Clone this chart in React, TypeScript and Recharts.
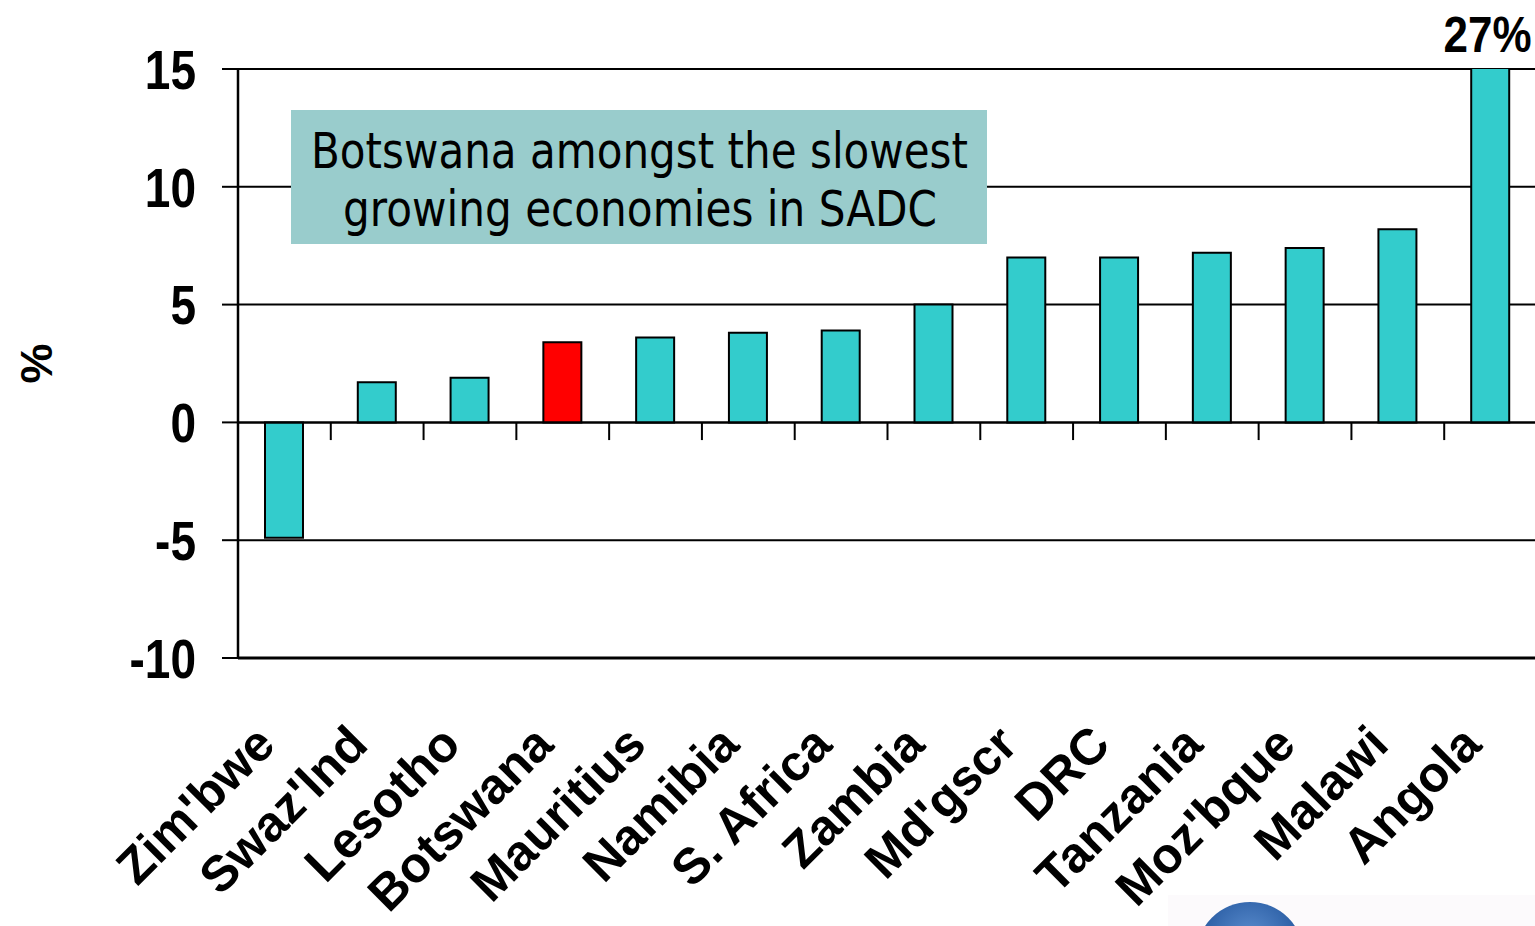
import React from 'react';
import { BarChart, Bar, XAxis, YAxis, CartesianGrid, ReferenceLine, ReferenceDot, Cell } from 'recharts';

const countries = [
  "Zim'bwe", "Swaz'lnd", 'Lesotho', 'Botswana', 'Mauritius', 'Namibia', 'S. Africa',
  'Zambia', "Md'gscr", 'DRC', 'Tanzania', "Moz'bque", 'Malawi', 'Angola',
];
const growth = [-4.9, 1.7, 1.9, 3.4, 3.6, 3.8, 3.9, 5.0, 7.0, 7.0, 7.2, 7.4, 8.2, 27];
const yTicks = [-10, -5, 0, 5, 10, 15];
const highlight = 'Botswana';
const calloutLines = ['Botswana amongst the slowest', 'growing economies in SADC'];

// slot = position of the category centre on a 0..n scale
const data = countries.map((name, i) => ({ name, growth: growth[i], slot: i + 0.5 }));
// category boundaries, drawn as short ticks under the zero line
const edges = countries.slice(1).map((_, i) => i + 1);
const yMax = yTicks[yTicks.length - 1];
const overflow = data.filter((d) => d.growth > yMax);

const FONT = '"Liberation Sans", Arial, Helvetica, sans-serif';
const TEAL = '#33CCCC';

function YTick({ x, y, payload }: any) {
  return (
    <text
      transform={`translate(${x},${y}) scale(1,1.2)`}
      textAnchor="end"
      dy="0.36em"
      fontSize={46}
      fontWeight="bold"
      fontFamily={FONT}
      fill="#000"
    >
      {payload.value}
    </text>
  );
}

function XTick({ x, y, payload }: any) {
  const ax = x - 7;
  const ay = y + 89;
  return (
    <text
      x={ax}
      y={ay}
      transform={`rotate(-45, ${ax}, ${ay})`}
      textAnchor="end"
      fontSize={50}
      fontWeight="bold"
      fontFamily={FONT}
      fill="#000"
    >
      {payload.value}
    </text>
  );
}

function overflowLabel(text: string) {
  return ({ viewBox }: any) => (
    <text
      transform={`translate(${viewBox.x - 3},${viewBox.y - 17}) scale(1,1.12)`}
      textAnchor="middle"
      fontSize={44}
      fontWeight="bold"
      fontFamily={FONT}
      fill="#000"
    >
      {text}
    </text>
  );
}

export default function App() {
  return (
    <div
      style={{
        position: 'fixed',
        left: 0,
        top: 0,
        width: 1535,
        height: 926,
        overflow: 'hidden',
        background: '#fff',
      }}
    >
      <BarChart width={1545} height={926} data={data} margin={{ top: 69, right: 8, bottom: 8, left: 0 }}>
        <CartesianGrid xAxisId="cat" vertical={false} stroke="#000" strokeWidth={2} />
        <XAxis
          xAxisId="cat"
          dataKey="name"
          height={260}
          interval={0}
          tickLine={false}
          tickSize={0}
          tickMargin={0}
          axisLine={{ stroke: '#000', strokeWidth: 3 }}
          tick={<XTick />}
        />
        <XAxis
          xAxisId="edge"
          dataKey="slot"
          type="number"
          domain={[0, countries.length]}
          allowDataOverflow
          hide
        />
        <YAxis
          width={238}
          domain={[yTicks[0], yMax]}
          ticks={yTicks}
          allowDataOverflow
          interval={0}
          tickSize={16}
          tickMargin={26}
          tickLine={{ stroke: '#000', strokeWidth: 2 }}
          axisLine={{ stroke: '#000', strokeWidth: 2.5 }}
          tick={<YTick />}
          label={{
            value: '%',
            angle: -90,
            position: 'insideLeft',
            offset: 36,
            textAnchor: 'middle',
            fontSize: 45,
            fontWeight: 'bold',
            fontFamily: FONT,
            fill: '#000',
          }}
        />
        <Bar
          xAxisId="cat"
          dataKey="growth"
          barSize={38}
          stroke="#000"
          strokeWidth={2}
          isAnimationActive={false}
        >
          {data.map((d) => (
            <Cell key={d.name} fill={d.name === highlight ? '#FF0000' : TEAL} />
          ))}
        </Bar>
        <ReferenceLine xAxisId="cat" y={0} stroke="#000" strokeWidth={2} />
        {edges.map((e) => (
          <ReferenceLine
            key={e}
            xAxisId="edge"
            segment={[{ x: e, y: 0 }, { x: e, y: -0.75 }]}
            stroke="#000"
            strokeWidth={2}
          />
        ))}
        {overflow.map((d) => (
          <ReferenceDot
            key={d.name}
            xAxisId="cat"
            x={d.name}
            y={yMax}
            r={0}
            fill="none"
            stroke="none"
            label={overflowLabel(`${d.growth}%`)}
          />
        ))}
      </BarChart>

      {/* callout box over the plot */}
      <svg
        width={1535}
        height={926}
        style={{ position: 'absolute', left: 0, top: 0, pointerEvents: 'none' }}
      >
        <rect x={291} y={110} width={696} height={134} fill="#99CCCC" />
        <text
          x={639.5}
          y={168}
          textAnchor="middle"
          textLength={657}
          lengthAdjust="spacingAndGlyphs"
          fontSize={50}
          fontFamily='"DejaVu Sans", Verdana, sans-serif'
          fill="#000"
        >
          {calloutLines[0]}
        </text>
        <text
          x={640}
          y={226}
          textAnchor="middle"
          textLength={594}
          lengthAdjust="spacingAndGlyphs"
          fontSize={50}
          fontFamily='"DejaVu Sans", Verdana, sans-serif'
          fill="#000"
        >
          {calloutLines[1]}
        </text>
        {/* corner of the logo strip */}
        <defs>
          <radialGradient id="globe" cx="50%" cy="35%" r="60%">
            <stop offset="0%" stopColor="#5d8fd0" />
            <stop offset="70%" stopColor="#2f62a8" />
            <stop offset="100%" stopColor="#1d3f78" />
          </radialGradient>
        </defs>
        <rect x={1168} y={895} width={367} height={31} fill="#fcfafc" />
        <circle cx={1250} cy={956} r={54} fill="url(#globe)" />
      </svg>
    </div>
  );
}
